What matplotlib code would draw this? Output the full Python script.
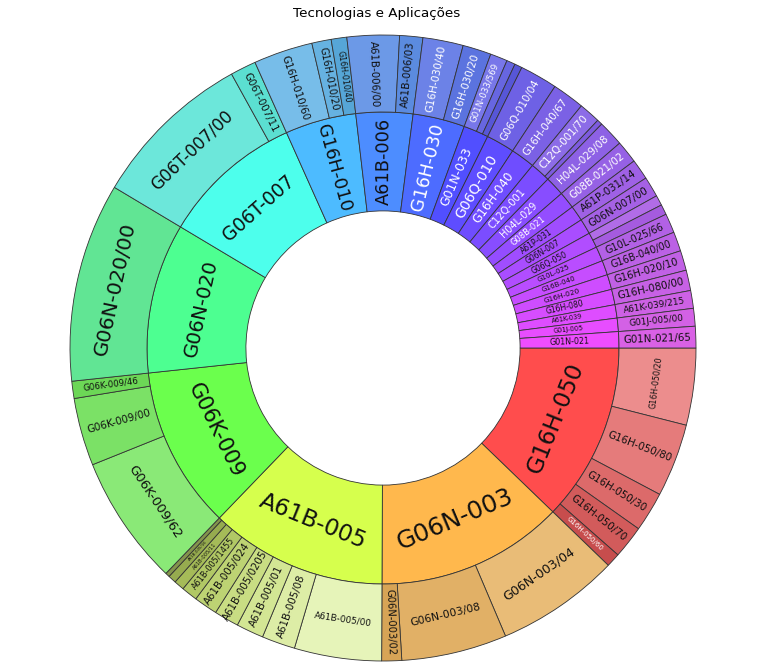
import colorsys
import numpy as np
import matplotlib
matplotlib.use("Agg")
import matplotlib.pyplot as plt

# grupos (anel do meio), no sentido horario a partir das 3 horas
parents = ['G16H-050', 'G06N-003', 'A61B-005', 'G06K-009', 'G06N-020', 'G06T-007',
           'G16H-010', 'A61B-006', 'G16H-030', 'G01N-033', 'G06Q-010', 'G16H-040',
           'C12Q-001', 'H04L-029', 'G08B-021', 'A61P-031', 'G06N-007', 'G06Q-050',
           'G10L-025', 'G16B-040', 'G16H-020', 'G16H-080', 'A61K-039', 'G01J-005',
           'G01N-021']
n_children = [5, 3, 9, 3, 1, 2, 3, 2, 2, 3, 1, 1, 2, 1, 1, 1, 1, 2, 1, 1, 1, 1, 1, 1, 1]

# subgrupos (anel externo)
child_labels = ['G16H-050/20', 'G16H-050/80', 'G16H-050/30', 'G16H-050/70', 'G16H-050/60',
                'G06N-003/04', 'G06N-003/08', 'G06N-003/02',
                'A61B-005/00', 'A61B-005/08', 'A61B-005/01', 'A61B-005/0205', 'A61B-005/024',
                'A61B-005/1455', 'A61B-005/11', 'A61B-005/16', '',
                'G06K-009/62', 'G06K-009/00', 'G06K-009/46',
                'G06N-020/00',
                'G06T-007/00', 'G06T-007/11',
                'G16H-010/60', 'G16H-010/20', 'G16H-010/40',
                'A61B-006/00', 'A61B-006/03',
                'G16H-030/40', 'G16H-030/20',
                'G01N-033/569', '', '',
                'G06Q-010/04',
                'G16H-040/67',
                'C12Q-001/70', '',
                'H04L-029/08', 'G08B-021/02', 'A61P-031/14', 'G06N-007/00', '', '',
                'G10L-025/66', 'G16B-040/00', 'G16H-020/10', 'G16H-080/00',
                'A61K-039/215', 'G01J-005/00', 'G01N-021/65']
child_values = [14.3, 13.6, 7.4, 6.1, 2.6,
                23.0, 19.6, 3.7,
                16.2, 6.2, 5.1, 4.6, 4.4, 3.0, 1.9, 1.5, 0.8,
                24.2, 12.6, 3.2,
                37.0,
                30.2, 4.8,
                11.0, 3.6, 2.9,
                9.7, 4.3,
                7.5, 5.3,
                3.2, 1.6, 1.4,
                7.0,
                6.0,
                4.0, 1.0,
                4.8, 4.2, 3.8, 3.8, 1.9, 1.9,
                3.6, 3.6, 3.7, 3.8, 3.3, 3.3, 4.0]

R_IN, R_MID, R_OUT = 0.438, 0.754, 1.0

child_values = np.array(child_values, dtype=float)
owner = np.repeat(np.arange(len(parents)), n_children)
parent_values = np.bincount(owner, weights=child_values)
total = parent_values.sum()


def rel_lum(rgb):
    c = np.array(rgb[:3])
    c = np.where(c <= 0.04045, c / 12.92, ((c + 0.055) / 1.055) ** 2.4)
    return 0.2126 * c[0] + 0.7152 * c[1] + 0.0722 * c[2]


p_start = np.cumsum(parent_values) - parent_values
base = plt.cm.hsv(p_start / total * 0.84)[:, :3]
parent_colors = 0.7 * base + 0.3
parent_white = [rel_lum(c) < 0.197 for c in parent_colors]

child_colors = []
for i, n in enumerate(n_children):
    h = colorsys.rgb_to_hls(*base[i])[0]
    for j in range(n):
        l = 0.64 + 0.05 * ((n - 1) / 2 - j)
        s = 0.72 - 0.05 * j
        child_colors.append(colorsys.hls_to_rgb(h, l, s))
child_white = [parent_white[owner[k]] or rel_lum(c) < 0.19
               for k, c in enumerate(child_colors)]

fig = plt.figure(figsize=(7.7, 6.67), dpi=100)
ax = fig.add_axes([0, 0, 1, 1])

edge = dict(edgecolor='#333333', linewidth=0.6)
ax.pie(parent_values, radius=R_MID, colors=parent_colors, startangle=0,
       counterclock=False, wedgeprops=dict(width=R_MID - R_IN, **edge))
ax.pie(child_values, radius=R_OUT, colors=child_colors, startangle=0,
       counterclock=False, wedgeprops=dict(width=R_OUT - R_MID, **edge))


def put_labels(labels, values, r0, r1, white, tang_min, tang_k, rad_k, rad_max):
    ends = np.cumsum(values)
    starts = ends - values
    rm = (r0 + r1) / 2
    for lab, a, b, w in zip(labels, starts, ends, white):
        if not lab:
            continue
        width = (b - a) / total * 360
        mid = -(a + b) / 2 / total * 360
        x, y = rm * np.cos(np.radians(mid)), rm * np.sin(np.radians(mid))
        if width >= tang_min:
            rot = mid - 90
            size = tang_k * width
        else:
            rot = mid
            size = min(rad_max, rad_k * width)
        rot = (rot + 180) % 360 - 180
        if rot > 90:
            rot -= 180
        elif rot < -90:
            rot += 180
        ax.text(x, y, lab, rotation=rot, rotation_mode='anchor', ha='center',
                va='center', fontsize=size * 0.72,
                color='white' if w else '#111111')


put_labels(parents, parent_values, R_IN, R_MID, parent_white, 25, 0.53, 2.0, 17.8)
put_labels(child_labels, child_values, R_MID, R_OUT, child_white, 14, 0.55, 2.7, 10.2)

# centro em (383, 348) px, raio externo 313 px
ax.set_xlim(-383 / 313, 387 / 313)
ax.set_ylim(-319 / 313, 348 / 313)
ax.set_aspect('auto')
ax.axis('off')

fig.text(377 / 770, 1 - 14 / 667, 'Tecnologias e Aplicações', ha='center',
         va='center', fontsize=9.7)

fig.savefig('out.png', dpi=100, facecolor='white')
